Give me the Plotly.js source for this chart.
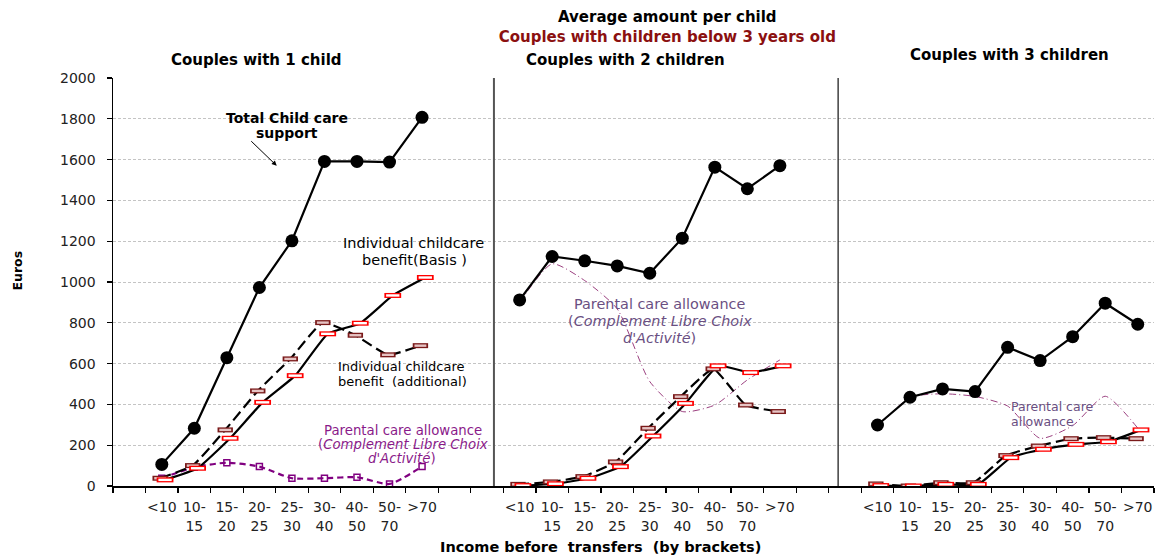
<!DOCTYPE html>
<html><head><meta charset="utf-8">
<script src="https://cdn.plot.ly/plotly-3.0.1.min.js"></script>
<style>html,body{margin:0;padding:0;background:#fff}#chart{width:1155px;height:557px}</style>
</head><body><div id="chart"></div>
<script>
// ---------------- data ----------------
const categories = ['<10','10-<br>15','15-<br>20','20-<br>25','25-<br>30','30-<br>40','40-<br>50','50-<br>70','>70'];
const panelTitles = ['Couples with 1 child','Couples with 2 children','Couples with 3 children'];

const total1 = [106, 283, 629, 973, 1202, 1591, 1591, 1588, 1807];
const total2 = [912, 1125, 1104, 1079, 1043, 1215, 1563, 1457, 1570];
const total3 = [299, 435, 476, 463, 680, 615, 732, 896, 793];

const basis1 = [30, 87, 234, 410, 541, 746, 798, 934, 1022];
const basis2 = [2, 11, 38, 95, 245, 405, 589, 556, 589];
const basis3 = [2, 0, 8, 8, 139, 180, 204, 217, 275];

const additional1 = [38, 100, 275, 466, 623, 801, 739, 643, 688];
const additional2 = [8, 20, 46, 118, 283, 438, 574, 397, 365];
const additional3 = [10, 0, 16, 16, 149, 196, 232, 237, 232];

const parental1 = [38, 92, 114, 95, 38, 38, 43, 10, 95];
const parental2 = [900, 1089, 1007, 868, 512, 365, 397, 520, 618];
const parental3 = [287, 435, 452, 439, 392, 234, 296, 440, 284];

// ---------------- layout helpers ----------------
const panelStart = [1, 12, 23];          // first slot of each panel on the shared axis
const OFF_BASIS = 0.1, OFF_ADD = -0.05;  // small horizontal marker offsets
const FONT = '"DejaVu Sans", Verdana, sans-serif';

function join(series, panels, off) {
  const x = [], y = [];
  panels.forEach((p, k) => {
    series[k].forEach((v, i) => { x.push(panelStart[p] + i + off); y.push(v); });
    x.push(null); y.push(null);
  });
  return {x, y};
}
const T = join([total1, total2, total3], [0,1,2], 0);
const B = join([basis1, basis2, basis3], [0,1,2], OFF_BASIS);
const A = join([additional1, additional2, additional3], [0,1,2], OFF_ADD);
const P1 = join([parental1], [0], 0);
const P23 = join([parental2, parental3], [1,2], 0);

const tickvals = [], ticktext = [];
panelStart.forEach(s => categories.forEach((c, i) => { tickvals.push(s + i); ticktext.push(c); }));

const traces = [
  {x: P23.x, y: P23.y, mode: 'lines', line: {color: '#9b3f7f', width: 1, dash: '7px,3px,1px,3px', shape: 'spline', smoothing: 0.6}, hoverinfo: 'skip'},
  {x: P1.x, y: P1.y, mode: 'lines+markers', line: {color: '#800080', width: 2.2, dash: '6px,4px', shape: 'spline', smoothing: 0.6},
   marker: {symbol: 'square-open', size: 6, color: '#800080', line: {width: 1.5}}},
  {x: A.x, y: A.y, mode: 'lines', line: {color: '#000', width: 2.2, dash: '11px,5px', shape: 'spline', smoothing: 0.4}},
  {x: B.x, y: B.y, mode: 'lines', line: {color: '#000', width: 2.2, shape: 'spline', smoothing: 0.4}},
  {x: T.x, y: T.y, mode: 'lines+markers', line: {color: '#000', width: 2.2},
   marker: {symbol: 'circle', size: 13, color: '#000'}},
  {x: A.x, y: A.y, mode: 'markers', marker: {symbol: 'line-ew-open', size: 11, color: '#7a1a1a', line: {width: 5}}},
  {x: A.x, y: A.y, mode: 'markers', marker: {symbol: 'line-ew-open', size: 8.5, color: '#e6c4c4', line: {width: 2.4}}},
  {x: B.x, y: B.y, mode: 'markers', marker: {symbol: 'line-ew-open', size: 12, color: '#ff0000', line: {width: 5}}},
  {x: B.x, y: B.y, mode: 'markers', marker: {symbol: 'line-ew-open', size: 9.5, color: '#ffffff', line: {width: 2.4}}}
];

// pixel -> paper helpers for annotation placement
const L = 113.3, R = 1154, TOP = 78.3, BOT = 486;
const px = v => (v - L) / (R - L);
const py = v => (BOT - v) / (BOT - TOP);

function txt(s, x, y, size, color, bold, anchor) {
  return {text: s, xref: 'paper', yref: 'paper', x: px(x), y: py(y), xanchor: anchor || 'center', yanchor: 'middle',
    showarrow: false, font: {family: FONT, size: size, color: color, weight: bold ? 'bold' : 'normal'}};
}
const PURPLE = '#8a1a8a', MAUVE = '#6a4f82';
const annotations = [
  txt(panelTitles[0], 257, 60, 15, '#000', true),
  txt(panelTitles[1], 626, 60, 15, '#000', true),
  txt(panelTitles[2], 1010, 55, 15, '#000', true),
  txt('Total Child care', 287, 118, 14, '#000', true),
  txt('support', 287, 133, 14, '#000', true),
  {text: '', xref: 'paper', yref: 'paper', x: px(277), y: py(166), ax: -27, ay: -26, showarrow: true,
   arrowhead: 2, arrowsize: 1, arrowwidth: 1, arrowcolor: '#000'},
  txt('Individual childcare', 414, 243, 14.5, '#000', false),
  txt('benefit(Basis )', 415, 260, 14.5, '#000', false),
  txt('Individual childcare', 336, 367, 13, '#000', false, 'left'),
  txt('benefit  (additional)', 336, 382, 13, '#000', false, 'left'),
  txt('Parental care allowance', 403, 431, 13.3, PURPLE, false),
  txt('(<i>Complement Libre Choix</i>', 403, 445, 13.3, PURPLE, false),
  txt('<i>d\'Activité</i>)', 402, 459, 13.3, PURPLE, false),
  txt('Parental care allowance', 660, 304, 14.4, MAUVE, false),
  txt('(<i>Complement Libre Choix</i>', 660, 321, 14.4, MAUVE, false),
  txt('<i>d\'Activité</i>)', 660, 338, 14.4, MAUVE, false),
  txt('Parental care', 1009, 407, 12.5, MAUVE, false, 'left'),
  txt('allowance', 1009, 422, 12.5, MAUVE, false, 'left'),
  txt('Income before  transfers  (by brackets)', 601, 547, 14.5, '#000', true),
  Object.assign(txt('Euros', 18, 271, 12.5, '#000', true), {textangle: -90})
];

const layout = {
  width: 1155, height: 557,
  margin: {l: 113, r: 1, t: 78, b: 71},
  paper_bgcolor: '#fff', plot_bgcolor: '#fff',
  showlegend: false,
  font: {family: FONT, color: '#111'},
  title: {
    text: 'Average amount per child<br><span style="color:#8b1010">Couples with children below 3 years old</span>',
    x: 615 / 1155, xanchor: 'center', xref: 'paper',
    y: 1 - 22 / 557, yref: 'container', yanchor: 'top',
    font: {family: FONT, size: 15, color: '#000', weight: 'bold'}
  },
  xaxis: {
    range: [-0.5, 31.5], tickmode: 'array', tickvals: tickvals, ticktext: ticktext,
    ticks: '', ticklabelstandoff: 8, tickfont: {family: FONT, size: 14, color: '#222'},
    showline: true, linecolor: '#000', linewidth: 1.5, showgrid: false, zeroline: false,
    minor: {tickmode: 'linear', tick0: -0.5, dtick: 1, ticks: 'outside', ticklen: 5, tickcolor: '#000', tickwidth: 1.2, showgrid: false}
  },
  yaxis: {
    range: [0, 2000], tickmode: 'linear', tick0: 0, dtick: 200,
    ticks: 'outside', ticklen: 5, tickcolor: '#000', tickwidth: 1.2, ticklabelstandoff: 8,
    tickfont: {family: FONT, size: 14, color: '#222'},
    showline: true, linecolor: '#000', linewidth: 1.5,
    gridcolor: '#c4c4c4', griddash: '3px,2px', gridwidth: 1, zeroline: false
  },
  shapes: [
    {type: 'line', xref: 'x', yref: 'paper', x0: 11.21, x1: 11.21, y0: 0, y1: 1, line: {color: '#555', width: 2}},
    {type: 'line', xref: 'x', yref: 'paper', x0: 21.79, x1: 21.79, y0: 0, y1: 1, line: {color: '#222', width: 1.3}}
  ],
  annotations: annotations
};

Plotly.newPlot('chart', traces, layout, {displayModeBar: false, staticPlot: true});
</script>
</body></html>
